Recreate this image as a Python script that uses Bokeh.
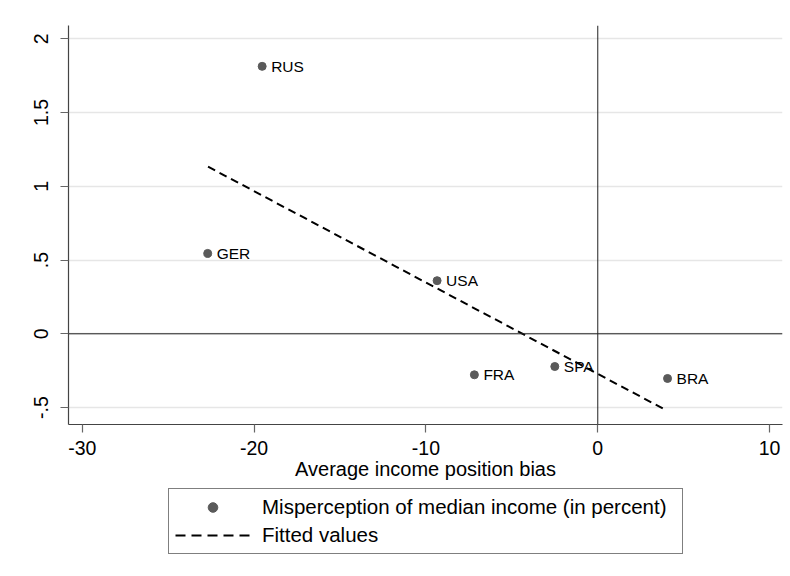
from bokeh.plotting import figure
from bokeh.layouts import column
from bokeh.models import ColumnDataSource, Span, Legend, LegendItem, FixedTicker
from bokeh.core.properties import value
from bokeh.embed import file_html
from bokeh.resources import INLINE

# Data
countries = ["RUS", "GER", "USA", "FRA", "SPA", "BRA"]
income_bias = [-19.53, -22.70, -9.35, -7.18, -2.50, 4.06]
misperception = [1.813, 0.545, 0.36, -0.278, -0.222, -0.303]
fit_x = [-22.68, 4.04]
fit_y = [1.133, -0.522]
x_ticks = [-30, -20, -10, 0, 10]
x_tick_labels = ["-30", "-20", "-10", "0", "10"]
y_ticks = [-0.5, 0, 0.5, 1, 1.5, 2]
y_tick_labels = ["-.5", "0", ".5", "1", "1.5", "2"]
legend_labels = ["Misperception of median income (in percent)", "Fitted values"]

FONT = "Liberation Sans"
PT_COLOR = "#5a5a5a"
FIT_DASH = "8 5"

p = figure(width=790, height=484, output_backend="svg", toolbar_location=None,
           x_range=(-30.8, 10.75), y_range=(-0.615, 2.09),
           min_border_left=68, min_border_top=25, min_border_right=8,
           min_border_bottom=60)
p.background_fill_color = "white"
p.border_fill_color = "white"
p.outline_line_color = None

src = ColumnDataSource(dict(x=income_bias, y=misperception, name=countries))
fit_src = ColumnDataSource(dict(x=fit_x, y=fit_y))

# zero reference lines
p.add_layout(Span(location=0, dimension="width", line_color="#222222", line_width=1))
p.add_layout(Span(location=0, dimension="height", line_color="#222222", line_width=1))

p.line("x", "y", source=fit_src, line_color="black", line_width=2, line_dash=FIT_DASH)
p.scatter("x", "y", source=src, size=8, fill_color=PT_COLOR, line_color=PT_COLOR)
p.text("x", "y", text="name", source=src, x_offset=9, text_baseline="middle",
       text_align="left", text_font=value(FONT), text_font_size="15.5px", text_color="black")

# grid
p.xgrid.grid_line_color = None
p.ygrid.ticker = FixedTicker(ticks=y_ticks)
p.ygrid.grid_line_color = "#e6e6e6"
p.ygrid.grid_line_width = 1.5

# axes
p.xaxis.ticker = FixedTicker(ticks=x_ticks)
p.xaxis.major_label_overrides = {t: l for t, l in zip(x_ticks, x_tick_labels)}
p.yaxis.ticker = FixedTicker(ticks=y_ticks)
p.yaxis.major_label_overrides = {t: l for t, l in zip(y_ticks, y_tick_labels)}
p.yaxis.major_label_orientation = "vertical"
for ax in (p.xaxis, p.yaxis):
    ax.axis_line_color = "#444444"
    ax.axis_line_width = 1.2
    ax.major_tick_line_color = "#666666"
    ax.major_tick_line_width = 1.2
    ax.major_tick_out = 8
    ax.major_tick_in = 0
    ax.minor_tick_line_color = None
    ax.major_label_text_font = FONT
    ax.major_label_text_font_size = "19.5px"
    ax.major_label_text_color = "black"
p.xaxis.major_label_standoff = 8
p.yaxis.major_label_standoff = 12
p.xaxis.axis_label = "Average income position bias"
p.xaxis.axis_label_text_font = FONT
p.xaxis.axis_label_text_font_size = "20px"
p.xaxis.axis_label_text_font_style = "normal"
p.xaxis.axis_label_text_color = "black"
p.xaxis.axis_label_standoff = 0

# legend strip below the chart
lg = figure(width=790, height=92, output_backend="svg", toolbar_location=None,
            x_range=(0, 1), y_range=(0, 1), min_border=0)
lg.axis.visible = False
lg.grid.visible = False
lg.outline_line_color = None
lg.background_fill_color = "white"
lg.border_fill_color = "white"
# hidden proxies: only their legend glyphs are shown
proxy_pts = lg.scatter(x=income_bias[:1], y=misperception[:1], size=7,
                       fill_color=PT_COLOR, line_color=PT_COLOR, visible=False)
proxy_fit = lg.line(x=fit_x, y=fit_y, line_color="black", line_width=2,
                    line_dash="10 6", visible=False)

legend = Legend(items=[
    LegendItem(label=legend_labels[0], renderers=[proxy_pts]),
    LegendItem(label=legend_labels[1], renderers=[proxy_fit]),
], location=(100, 22), orientation="vertical")
legend.label_text_font = FONT
legend.label_text_font_size = "20.5px"
legend.label_text_color = "black"
legend.glyph_width = 75
legend.glyph_height = 24
legend.label_standoff = 12
legend.label_width = 414
legend.spacing = 4
legend.padding = 6
legend.margin = 0
legend.border_line_color = "black"
legend.border_line_width = 1
legend.background_fill_color = "white"
legend.background_fill_alpha = 1
legend.inactive_fill_alpha = 0
lg.add_layout(legend)

layout = column(p, lg, spacing=0)
open("out.html", "w").write(file_html(layout, INLINE))
